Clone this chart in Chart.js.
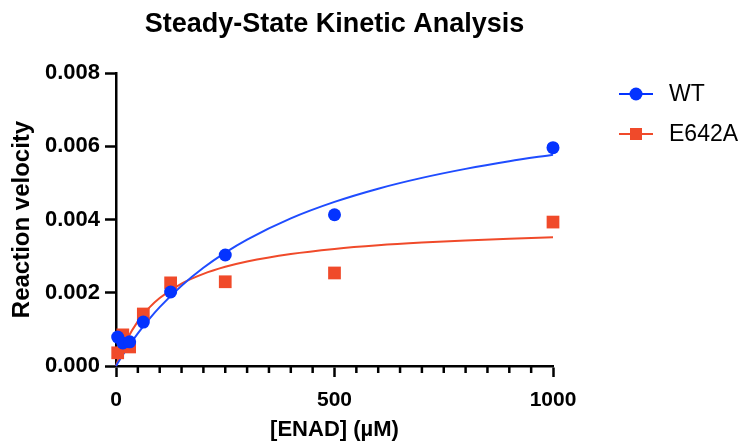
<!DOCTYPE html>
<html>
<head>
<meta charset="utf-8">
<script src="https://cdn.jsdelivr.net/npm/chart.js@4.4.0/dist/chart.umd.min.js"></script>
<style>
  html, body { margin: 0; padding: 0; background: #fff; }
</style>
</head>
<body>
<canvas id="kineticChart" width="745" height="443"></canvas>
<script>
// substrate concentrations (uM) and measured velocities
const concentrations = [3.9, 15.6, 31.25, 62.5, 125, 250, 500, 1000];
const wtVelocity = [0.00079, 0.00063, 0.00066, 0.00120, 0.00202, 0.00303, 0.00413, 0.00596];
const e642aVelocity = [0.00036, 0.00085, 0.00052, 0.00142, 0.00227, 0.00230, 0.00254, 0.00393];

// fitted curves
const fitX = [0, 10, 25, 50, 75, 100, 150, 200, 250, 300, 400, 500, 600, 700, 800, 900, 1000];
const wtFit = [0, 0.000196, 0.000472, 0.000892, 0.001268, 0.001607, 0.002193, 0.002682, 0.003096,
               0.003452, 0.004030, 0.004480, 0.004841, 0.005136, 0.005382, 0.005590, 0.005769];
const e642aFit = [0, 0.000325, 0.000722, 0.001219, 0.001581, 0.001857, 0.002250, 0.002516, 0.002708,
                  0.002854, 0.003059, 0.003197, 0.003296, 0.003370, 0.003429, 0.003475, 0.003514];

const xMajorTicks = [0, 500, 1000];
const yTicks = [0, 0.002, 0.004, 0.006, 0.008];

const BLUE = '#0433ff';
const RED = '#f04a2a';
const FONT = '"Liberation Sans", Arial, Helvetica, sans-serif';

const toPoints = (xs, ys) => xs.map((x, i) => ({ x: x, y: ys[i] }));

// title, legend and the short minor ticks on the x axis
const decorPlugin = {
    id: 'decor',
    afterDraw(chart) {
        const ctx = chart.ctx;
        const xScale = chart.scales.x;
        ctx.save();

        // minor ticks
        ctx.strokeStyle = '#000';
        ctx.lineWidth = 2.5;
        xScale.ticks.forEach(t => {
            if (xMajorTicks.includes(t.value)) return;
            const px = xScale.getPixelForValue(t.value);
            ctx.beginPath();
            ctx.moveTo(px, xScale.top);
            ctx.lineTo(px, xScale.top + 7);
            ctx.stroke();
        });

        // title
        ctx.fillStyle = '#000';
        ctx.font = 'bold 27px ' + FONT;
        ctx.textAlign = 'center';
        ctx.textBaseline = 'middle';
        ctx.fillText('Steady-State Kinetic Analysis', (chart.chartArea.left + chart.chartArea.right) / 2, 25);

        // legend
        const entries = [
            { label: 'WT', color: BLUE, shape: 'circle', y: 94 },
            { label: 'E642A', color: RED, shape: 'square', y: 134 }
        ];
        entries.forEach(e => {
            ctx.strokeStyle = e.color;
            ctx.lineWidth = 2;
            ctx.beginPath();
            ctx.moveTo(619, e.y);
            ctx.lineTo(653, e.y);
            ctx.stroke();
            ctx.fillStyle = e.color;
            if (e.shape === 'circle') {
                ctx.beginPath();
                ctx.arc(636, e.y, 6.5, 0, Math.PI * 2);
                ctx.fill();
            } else {
                ctx.fillRect(630, e.y - 6, 12, 12);
            }
            ctx.fillStyle = '#000';
            ctx.font = '23px ' + FONT;
            ctx.textAlign = 'left';
            ctx.fillText(e.label, 669, e.y + 1);
        });
        ctx.restore();
    }
};

new Chart(document.getElementById('kineticChart'), {
    type: 'scatter',
    data: {
        datasets: [
            {
                label: 'WT',
                data: toPoints(concentrations, wtVelocity),
                backgroundColor: BLUE,
                borderColor: BLUE,
                pointStyle: 'circle',
                pointRadius: 6.5,
                pointBorderWidth: 0,
                showLine: false,
                clip: false
            },
            {
                label: 'E642A',
                data: toPoints(concentrations, e642aVelocity),
                backgroundColor: RED,
                borderColor: RED,
                pointStyle: 'rect',
                pointRadius: 9,
                pointBorderWidth: 0,
                showLine: false,
                clip: false
            },
            {
                label: 'WT fit',
                data: toPoints(fitX, wtFit),
                borderColor: '#1f4cff',
                borderWidth: 2,
                pointRadius: 0,
                showLine: true,
                cubicInterpolationMode: 'monotone',
                clip: false
            },
            {
                label: 'E642A fit',
                data: toPoints(fitX, e642aFit),
                borderColor: RED,
                borderWidth: 2,
                pointRadius: 0,
                showLine: true,
                cubicInterpolationMode: 'monotone',
                clip: false
            }
        ]
    },
    options: {
        responsive: false,
        animation: false,
        devicePixelRatio: 1,
        layout: { padding: { top: 73, right: 192, bottom: 0, left: 0 } },
        plugins: {
            legend: { display: false },
            tooltip: { enabled: false }
        },
        scales: {
            x: {
                type: 'linear',
                min: 0,
                max: 1000,
                afterFit: scale => { scale.height = 77; },
                border: { display: true, color: '#000', width: 2.5 },
                grid: {
                    drawOnChartArea: false,
                    drawTicks: true,
                    tickLength: 11,
                    tickWidth: 2.5,
                    tickColor: c => (c.tick && xMajorTicks.includes(c.tick.value)) ? '#000' : 'rgba(0,0,0,0)'
                },
                ticks: {
                    stepSize: 50,
                    autoSkip: false,
                    maxRotation: 0,
                    padding: 11,
                    color: '#000',
                    font: { family: FONT, size: 21, weight: 'bold' },
                    callback: v => xMajorTicks.includes(v) ? String(v) : ''
                },
                title: {
                    display: true,
                    text: '[ENAD] (µM)',
                    color: '#000',
                    padding: { top: 0, bottom: 0 },
                    font: { family: FONT, size: 22, weight: 'bold' }
                }
            },
            y: {
                type: 'linear',
                min: 0,
                max: 0.008,
                afterFit: scale => { scale.width = 116; },
                afterBuildTicks: scale => { scale.ticks = yTicks.map(v => ({ value: v })); },
                border: { display: true, color: '#000', width: 2.5 },
                grid: {
                    drawOnChartArea: false,
                    drawTicks: true,
                    tickLength: 11,
                    tickWidth: 2.5,
                    tickColor: '#000'
                },
                ticks: {
                    padding: 5,
                    color: '#000',
                    font: { family: FONT, size: 22, weight: 'bold' },
                    callback: v => v.toFixed(3)
                },
                title: {
                    display: true,
                    text: 'Reaction velocity',
                    color: '#000',
                    padding: { top: 8, bottom: 0 },
                    font: { family: FONT, size: 24, weight: 'bold' }
                }
            }
        }
    },
    plugins: [decorPlugin]
});
</script>
</body>
</html>
